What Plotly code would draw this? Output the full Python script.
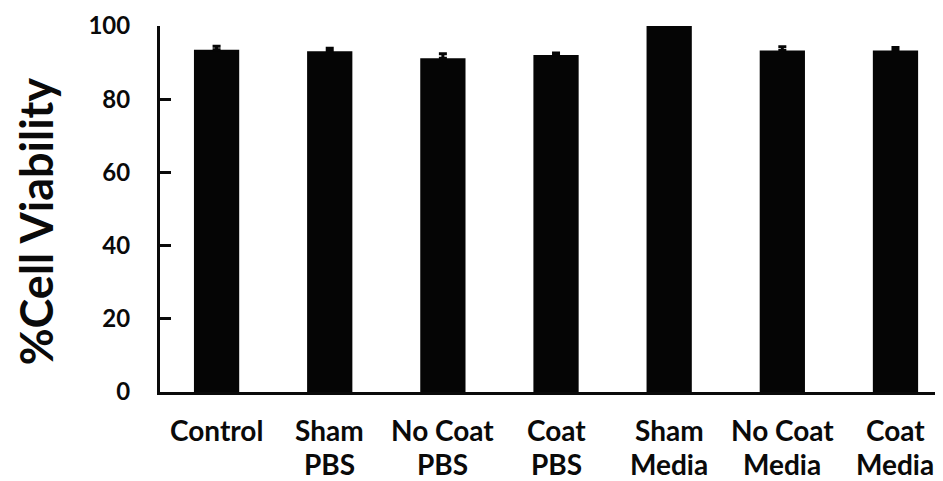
import plotly.graph_objects as go

categories = ["Control", "Sham PBS", "No Coat PBS", "Coat PBS", "Sham Media", "No Coat Media", "Coat Media"]
label_line1 = ["Control", "Sham", "No Coat", "Coat", "Sham", "No Coat", "Coat"]
label_line2 = ["", "PBS", "PBS", "PBS", "Media", "Media", "Media"]
viability = [93.5, 93.1, 91.2, 92.1, 100.0, 93.3, 93.3]
errors = [1.0, 0.8, 1.2, 0.5, 0.2, 1.0, 0.8]
y_ticks = [0, 20, 40, 60, 80, 100]
y_title = "%Cell Viability"

FONT = "Lato"
INK = "#0a0a0a"
fig = go.Figure()
fig.add_trace(go.Bar(
    x=categories, y=viability, width=0.4,
    marker=dict(color="#050505", line=dict(color="#050505", width=0)),
    error_y=dict(type="data", array=errors, arrayminus=[0]*len(errors), color="#050505",
                 thickness=3, width=4, visible=True),
))

ann = []
for c, l1, l2 in zip(categories, label_line1, label_line2):
    ann.append(dict(x=c, xref="x", y=-0.105, yref="paper", text=f"<b>{l1}</b>", showarrow=False,
                    yanchor="middle", xanchor="center", font=dict(family=FONT, size=28, color=INK)))
    if l2:
        ann.append(dict(x=c, xref="x", y=-0.196, yref="paper", text=f"<b>{l2}</b>", showarrow=False,
                        yanchor="middle", xanchor="center", font=dict(family=FONT, size=28, color=INK)))
ann.append(dict(x=-0.159, xref="paper", y=0.465, yref="paper", text=f"<b>{y_title}</b>",
                showarrow=False, textangle=-90, xanchor="center", yanchor="middle",
                font=dict(family=FONT, size=45, color=INK)))

fig.update_layout(
    width=935, height=473,
    margin=dict(l=152, r=0, t=17.5, b=88.5),
    plot_bgcolor="white", paper_bgcolor="white",
    showlegend=False,
    annotations=ann,
    font=dict(family=FONT, color=INK),
)
fig.update_xaxes(type="category", range=[-0.5, 6.42], showticklabels=False, ticks="",
                 showline=True, linecolor=INK, linewidth=3, showgrid=False, zeroline=False)
fig.update_yaxes(range=[0, 100], tickvals=y_ticks, ticks="inside", ticklen=11, tickwidth=3,
                 tickcolor=INK, showline=True, linecolor=INK, linewidth=3, showgrid=False,
                 zeroline=False, tickfont=dict(family=FONT, size=24, color=INK, weight="bold"),
                 ticklabelstandoff=22)
fig.write_html("out.html")
